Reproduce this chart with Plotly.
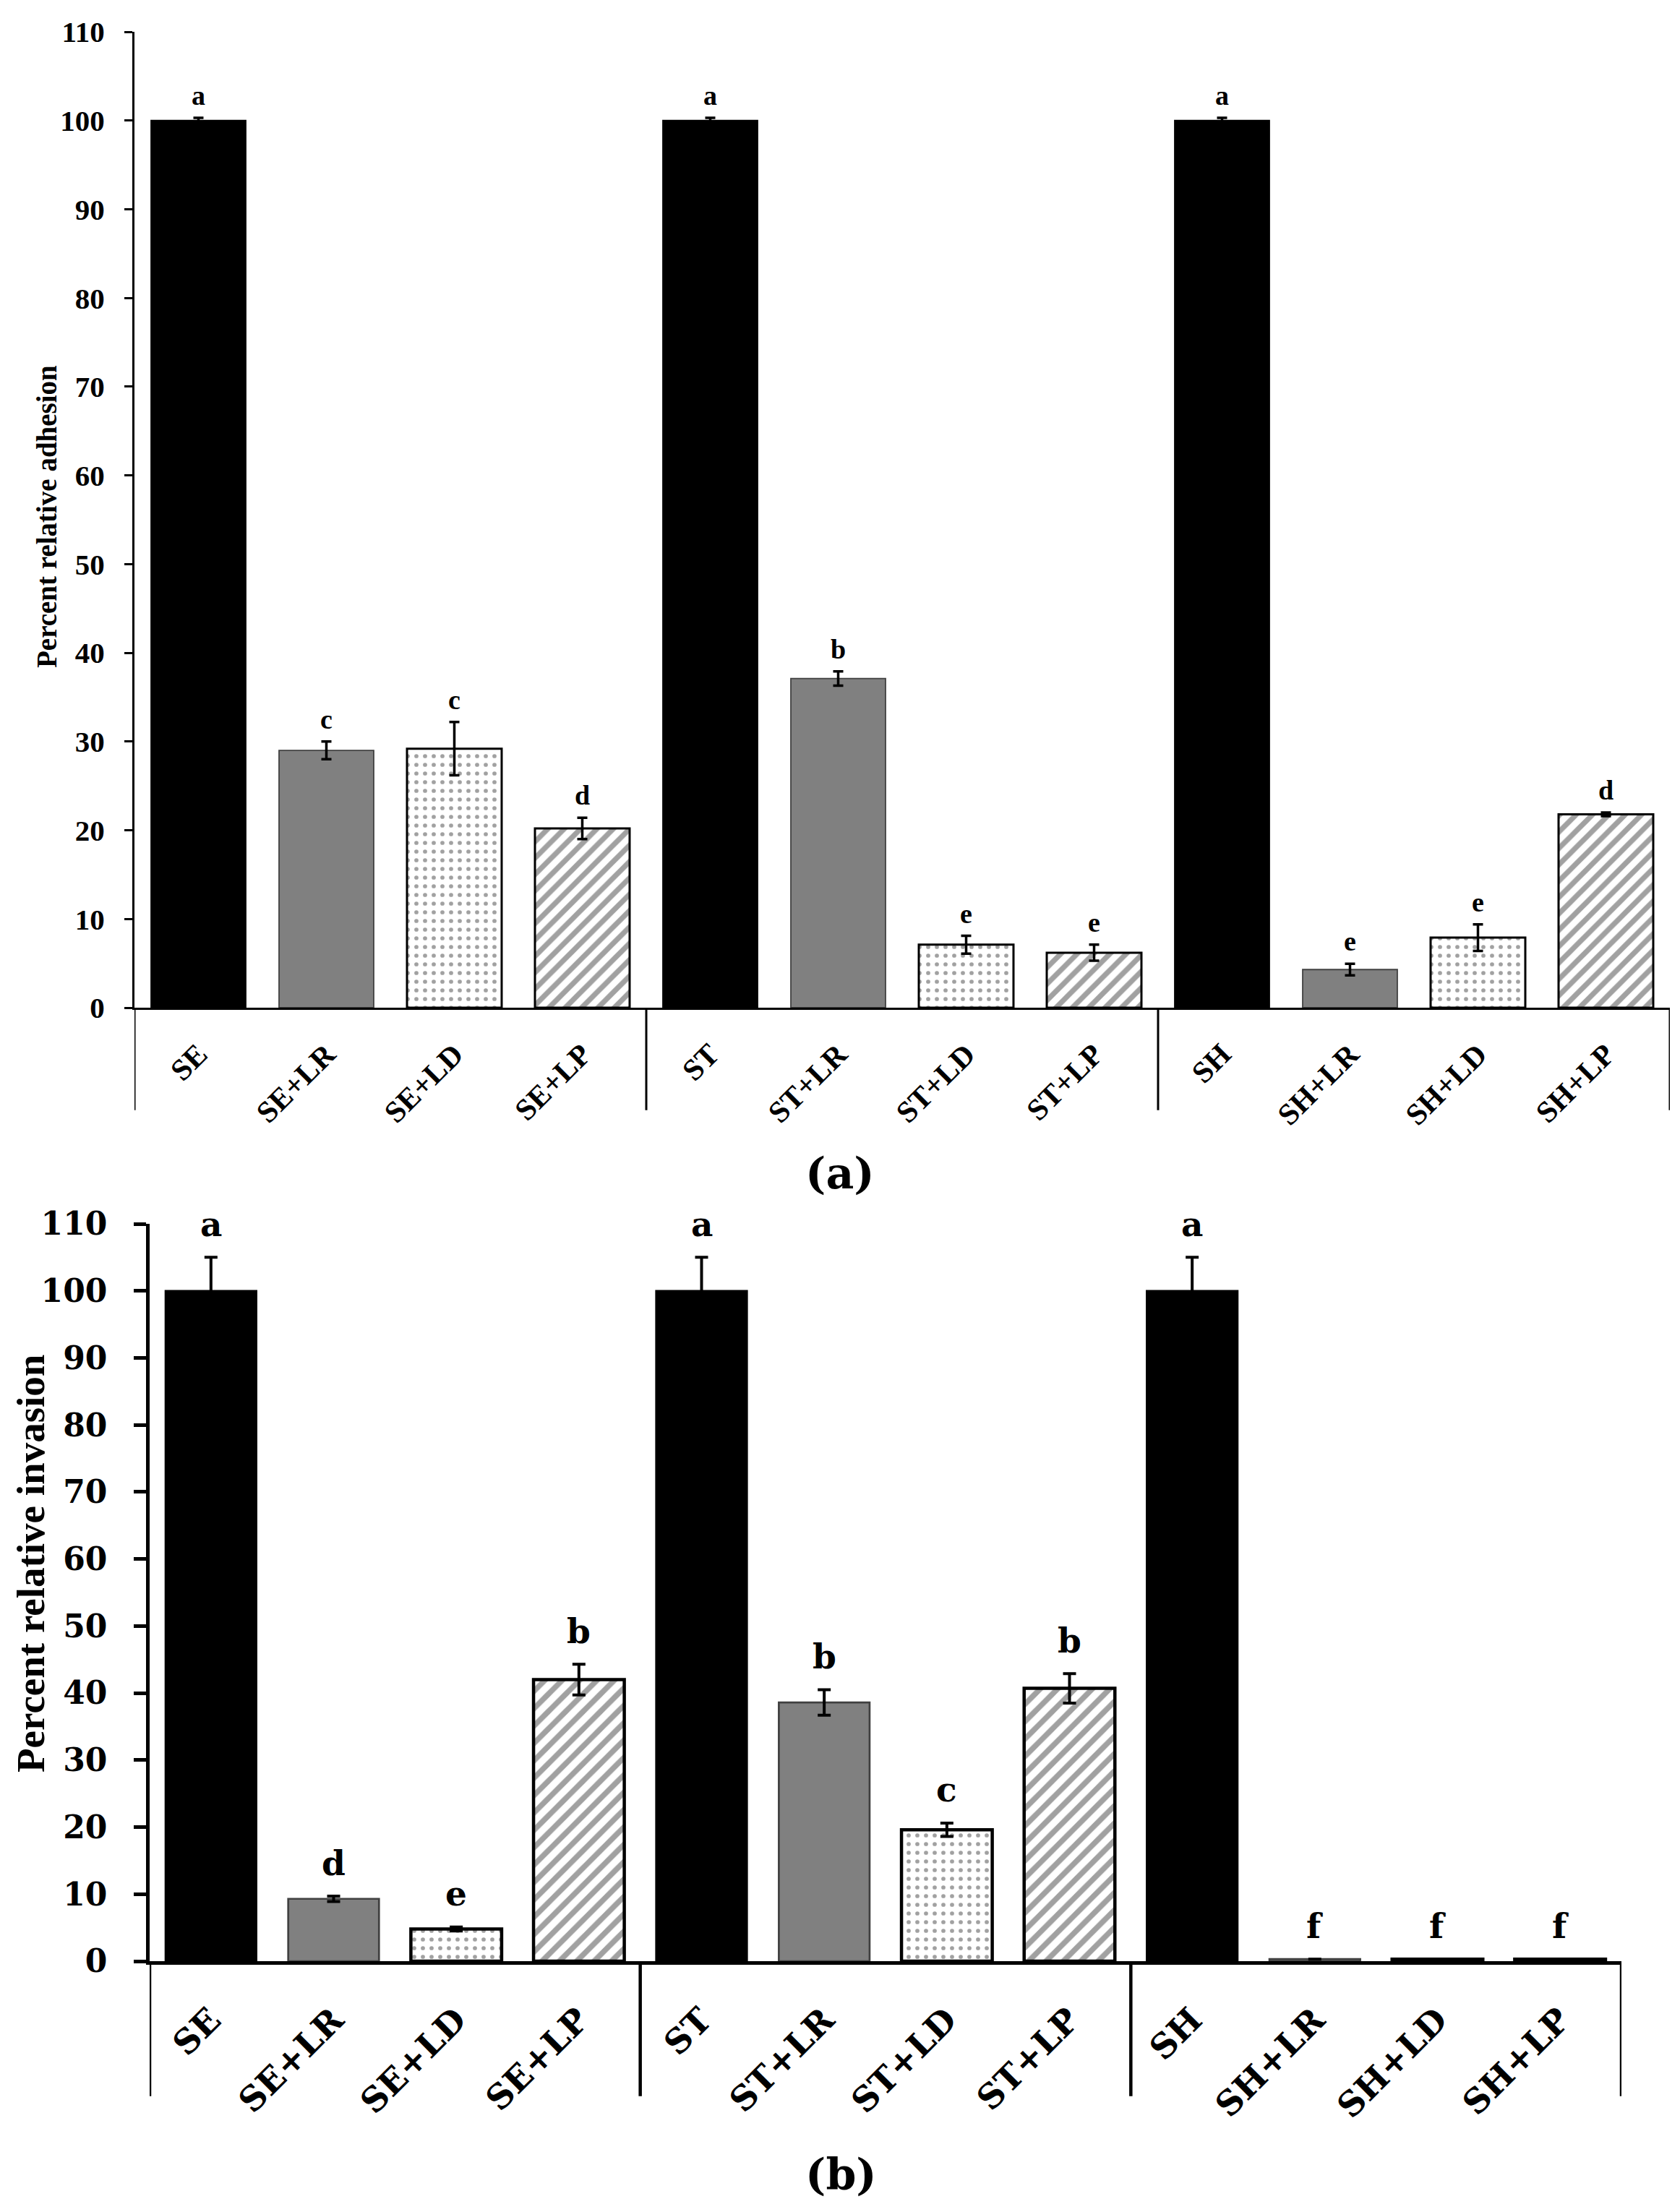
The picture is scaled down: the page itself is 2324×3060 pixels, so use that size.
import plotly.graph_objects as go

# categories, shared by both panels
labels = ['SE', 'SE+LR', 'SE+LD', 'SE+LP',
          'ST', 'ST+LR', 'ST+LD', 'ST+LP',
          'SH', 'SH+LR', 'SH+LD', 'SH+LP']

# (a) adhesion
adhesion = [100, 29.0, 29.2, 20.2, 100, 37.1, 7.1, 6.2, 100, 4.3, 7.9, 21.8]
adhesion_err = [0.3, 1.0, 3.0, 1.2, 0.3, 0.8, 1.0, 0.9, 0.3, 0.65, 1.5, 0.2]
adhesion_letters = ['a', 'c', 'c', 'd', 'a', 'b', 'e', 'e', 'a', 'e', 'e', 'd']

# (b) invasion
invasion = [100, 9.3, 4.8, 42.0, 100, 38.6, 19.6, 40.7, 100, 0.3, 0.3, 0.3]
invasion_err = [5.0, 0.4, 0.3, 2.3, 5.0, 1.9, 1.0, 2.2, 5.0, 0.0, 0.0, 0.0]
invasion_letters = ['a', 'd', 'e', 'b', 'a', 'b', 'c', 'b', 'a', 'f', 'f', 'f']

# treatment style: pathogen alone, +LR, +LD, +LP
fill = ['#000000', '#808080', '#ffffff', '#ffffff'] * 3
edge = ['#000000', '#404040', '#000000', '#000000'] * 3
shape = ['', '', '.', '/'] * 3
group_edges = [-0.5, 3.5, 7.5, 11.5]

W, H = 2324, 3060
x_pos = list(range(len(labels)))

TIMES = 'Liberation Serif'
PALA = 'DejaVu Serif'


def bar_trace(values, errs, xa, ya, lw, ew, cap, hatch):
    return go.Bar(
        x=x_pos, y=values, xaxis=xa, yaxis=ya, showlegend=False,
        marker=dict(color=fill,
                    line=dict(color=edge, width=[lw if s else lw * 0.6 for s in shape]),
                    pattern=dict(shape=shape, fgcolor=['#000000', '#000000', '#222222', '#000000'] * 3,
                                 bgcolor=fill, size=[1, 1, 12, hatch] * 3,
                                 solidity=[0.3, 0.3, 0.18, 0.45] * 3, fillmode='overlay')),
        error_y=dict(type='data', array=errs, visible=True, color='black',
                     thickness=ew, width=cap),
    )


fig = go.Figure()
fig.add_trace(bar_trace(adhesion, adhesion_err, 'x', 'y', 3, 3.5, 7, 16))
fig.add_trace(bar_trace(invasion, invasion_err, 'x2', 'y2', 4.5, 4, 9, 17))

# letters above bars
for i in x_pos:
    fig.add_annotation(x=i, y=adhesion[i] + adhesion_err[i], xref='x', yref='y',
                       text=adhesion_letters[i], showarrow=False, yanchor='middle', yshift=31,
                       font=dict(family=TIMES, size=38, color='black', weight='bold'))
    fig.add_annotation(x=i, y=invasion[i] + invasion_err[i], xref='x2', yref='y2',
                       text=invasion_letters[i], showarrow=False, yanchor='middle', yshift=46,
                       font=dict(family=PALA, size=47, color='black', weight='bold'))

# group separators below the category axis
for xe in group_edges:
    fig.add_shape(type='line', xref='x', yref='y domain', x0=xe, x1=xe, y0=0, y1=-0.105,
                  line=dict(color='black', width=3))
    fig.add_shape(type='line', xref='x2', yref='y2 domain', x0=xe, x1=xe, y0=0, y1=-0.183,
                  line=dict(color='black', width=4.5))

# axis titles
fig.add_annotation(x=56 / W, y=1 - 707 / H, xref='paper', yref='paper', text='Percent relative adhesion',
                   textangle=-90, showarrow=False, xanchor='center', yanchor='middle',
                   font=dict(family=TIMES, size=39, color='black', weight='bold'))
fig.add_annotation(x=34 / W, y=1 - 2155 / H, xref='paper', yref='paper', text='Percent relative invasion',
                   textangle=-90, showarrow=False, xanchor='center', yanchor='middle',
                   font=dict(family=TIMES, size=55, color='black', weight='bold'))

# panel captions
fig.add_annotation(x=1154 / W, y=1 - 1615 / H, xref='paper', yref='paper', text='(a)', showarrow=False,
                   xanchor='center', yanchor='middle',
                   font=dict(family=PALA, size=60, color='black', weight='bold'))
fig.add_annotation(x=1155 / W, y=1 - 3000 / H, xref='paper', yref='paper', text='(b)', showarrow=False,
                   xanchor='center', yanchor='middle',
                   font=dict(family=PALA, size=60, color='black', weight='bold'))

fig.update_layout(
    width=W, height=H, margin=dict(l=0, r=0, t=0, b=0),
    plot_bgcolor='white', paper_bgcolor='white', bargap=0.26,
    xaxis=dict(domain=[178 / W, 2302 / W], anchor='y', range=[-0.5, 11.5],
               tickvals=x_pos, ticktext=labels, tickangle=-45, ticks='',
               showline=True, linecolor='black', linewidth=3, showgrid=False, zeroline=False,
               ticklabelstandoff=20, automargin=False,
               tickfont=dict(family=TIMES, size=42, color='black', weight='bold')),
    yaxis=dict(domain=[1 - 1386 / H, 1 - 36 / H], anchor='x', range=[0, 110], dtick=10, tick0=0,
               ticks='outside', ticklen=11, tickwidth=3, tickcolor='black',
               showline=True, linecolor='black', linewidth=3, showgrid=False, zeroline=False,
               ticklabelstandoff=19, automargin=False,
               tickfont=dict(family=TIMES, size=41, color='black', weight='bold')),
    xaxis2=dict(domain=[199 / W, 2235 / W], anchor='y2', range=[-0.5, 11.5],
                tickvals=x_pos, ticktext=labels, tickangle=-45, ticks='',
                showline=True, linecolor='black', linewidth=4.5, showgrid=False, zeroline=False,
                ticklabelstandoff=30, automargin=False,
                tickfont=dict(family=PALA, size=47, color='black', weight='bold')),
    yaxis2=dict(domain=[1 - 2705 / H, 1 - 1685 / H], anchor='x2', range=[0, 110], dtick=10, tick0=0,
                ticks='outside', ticklen=17, tickwidth=4.5, tickcolor='black',
                showline=True, linecolor='black', linewidth=4.5, showgrid=False, zeroline=False,
                ticklabelstandoff=28, automargin=False,
                tickfont=dict(family=PALA, size=44, color='black', weight='bold')),
)

fig.write_html('out.html')
